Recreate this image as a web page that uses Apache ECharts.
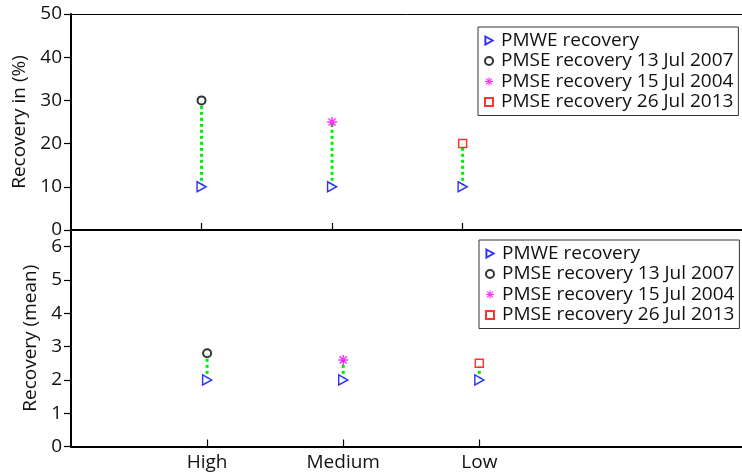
<!DOCTYPE html>
<html>
<head>
<meta charset="utf-8">
<script src="https://cdn.jsdelivr.net/npm/echarts@6/dist/echarts.min.js"></script>
<style>
  html, body { margin: 0; padding: 0; background: #fff; }
  #main { width: 742px; height: 476px; }
</style>
</head>
<body>
<div id="main"></div>
<script>
// categories along x (placed at 1, 2, 3)
var categories = ["High", "Medium", "Low"];
var catPos = [1, 2, 3];

var pmweName = "PMWE recovery";
var pmseNames = ["PMSE recovery 13 Jul 2007", "PMSE recovery 15 Jul 2004", "PMSE recovery 26 Jul 2013"];

// top panel: recovery in %
var pmwePct = [10, 10, 10];
var pmsePct = [30, 25, 20];

// bottom panel: recovery (mean)
var pmweMean = [2, 2, 2];
var pmseMean = [2.8, 2.6, 2.5];

var pctTicks = [0, 10, 20, 30, 40, 50];
var meanTicks = [0, 1, 2, 3, 4, 5, 6];

var FONT = "Open Sans";
var FS = 19;

// asterisk marker (4 bars) and right-pointing triangle
var asterisk = "path://M-1.5,-10L1.5,-10L1.5,10L-1.5,10Z M-10,-1.5L10,-1.5L10,1.5L-10,1.5Z " +
  "M-6,-8.1L8.1,6L6,8.1L-8.1,-6Z M-6,8.1L-8.1,6L6,-8.1L8.1,-6Z";
var triRight = "path://M0,0L9,5L0,10Z";

var pmseStyles = [
  { symbol: "circle", symbolSize: 8, itemStyle: { color: "#fff", borderColor: "#000", borderWidth: 2 } },
  { symbol: asterisk, symbolSize: 10, itemStyle: { color: "#ff00ff", borderWidth: 0 } },
  { symbol: "rect", symbolSize: 8, itemStyle: { color: "#fff", borderColor: "#ff0000", borderWidth: 1.5 } }
];
var pmweStyle = { symbol: triRight, symbolSize: [9, 10],
  itemStyle: { color: "#fff", borderColor: "#0000ff", borderWidth: 1.5 } };

function buildSeries(gridIdx, pmwe, pmse) {
  var list = [];
  // green dotted connectors
  for (let i = 0; i < categories.length; i++) {
    list.push({
      name: "link", type: "line", xAxisIndex: gridIdx * 2, yAxisIndex: gridIdx,
      data: [[catPos[i], pmwe[i]], [catPos[i], pmse[i]]],
      symbol: "none", silent: true, z: 1,
      lineStyle: { color: "#00ee00", width: 3, type: [3, 3] }
    });
  }
  list.push(Object.assign({
    name: pmweName, type: "scatter", xAxisIndex: gridIdx * 2, yAxisIndex: gridIdx, z: 3,
    data: catPos.map(function (x, i) { return [x, pmwe[i]]; })
  }, pmweStyle));
  for (let i = 0; i < pmseNames.length; i++) {
    list.push(Object.assign({
      name: pmseNames[i], type: "scatter", xAxisIndex: gridIdx * 2, yAxisIndex: gridIdx, z: 3,
      data: [[catPos[i], pmse[i]]]
    }, pmseStyles[i]));
  }
  return list;
}

function xAxes(gridIdx, max, withLabels) {
  return [
    {
      type: "value", gridIndex: gridIdx, position: "bottom", min: 0, max: max,
      axisLine: { onZero: false, lineStyle: { color: "#000", width: 2 } },
      axisTick: { show: true, inside: true, length: 7, customValues: catPos, lineStyle: { color: "#000", width: 1.2 } },
      axisLabel: {
        show: withLabels, customValues: catPos, margin: 7,
        fontFamily: FONT, fontSize: FS, color: "#111",
        formatter: function (v) { return categories[catPos.indexOf(v)] || ""; }
      },
      splitLine: { show: false }
    },
    {
      type: "value", gridIndex: gridIdx, position: "top", min: 0, max: max,
      axisLine: { show: gridIdx === 0, onZero: false, lineStyle: { color: "#000", width: 1 } },
      axisTick: { show: false }, axisLabel: { show: false }, splitLine: { show: false }
    }
  ];
}

function yAxis(gridIdx, max, interval, name, gap) {
  return {
    type: "value", gridIndex: gridIdx, min: 0, max: max, interval: interval,
    name: name, nameLocation: "middle", nameGap: gap, nameRotate: 90,
    nameTextStyle: { fontFamily: FONT, fontSize: FS, color: "#111" },
    axisLine: { show: true, onZero: false, lineStyle: { color: "#000", width: 2 } },
    axisTick: { show: true, length: 7, lineStyle: { color: "#000", width: 1.2 } },
    axisLabel: { margin: 9, fontFamily: FONT, fontSize: FS, color: "#111",
      showMaxLabel: max % interval === 0 },
    splitLine: { show: false }
  };
}

function legend(top, left) {
  var items = [{ name: pmweName, icon: triRight }];
  pmseNames.forEach(function (n, i) {
    items.push({ name: n, icon: pmseStyles[i].symbol });
  });
  return {
    orient: "vertical", top: top, left: left,
    data: items,
    itemWidth: 8, itemHeight: 8, itemGap: 1.5,
    padding: [4, 5, 4, 6],
    backgroundColor: "#fff", borderColor: "#333", borderWidth: 1,
    textStyle: { fontFamily: FONT, fontSize: FS, color: "#111", lineHeight: 19, padding: [0, 0, 0, 3] },
    selectedMode: false
  };
}

var chart = echarts.init(document.getElementById("main"));
chart.setOption({
  animation: false,
  backgroundColor: "#fff",
  grid: [
    { left: 71, top: 14, right: 0, height: 216 },
    { left: 71, top: 230, right: 0, height: 216.5 }
  ],
  xAxis: xAxes(0, 5.14, false).concat(xAxes(1, 4.93, true)),
  yAxis: [
    yAxis(0, pctTicks[pctTicks.length - 1], 10, "Recovery in (%)", 36),
    yAxis(1, 6.5, 1, "Recovery (mean)", 26)
  ],
  legend: [legend(27, 478), legend(240, 479)],
  series: buildSeries(0, pmwePct, pmsePct).concat(buildSeries(1, pmweMean, pmseMean))
});
</script>
</body>
</html>
